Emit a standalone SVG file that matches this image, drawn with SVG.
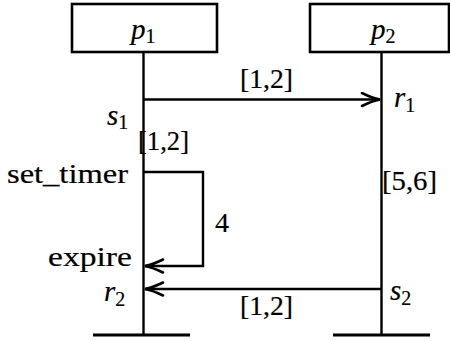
<svg xmlns="http://www.w3.org/2000/svg" width="450" height="341" viewBox="0 0 450 341">
  <style>
    .ln { stroke: #000; stroke-width: 2.4; fill: none; }
    .box { stroke: #000; stroke-width: 2.6; fill: #fff; }
    .bar { stroke: #000; stroke-width: 3.2; }
    text { font-family: "Liberation Serif", "Times New Roman", serif; font-size: 28px; fill: #000; stroke: #000; stroke-width: 0.2; }
    .it { font-style: italic; font-size: 29px; }
    .sub { font-style: normal; font-size: 20px; }
  </style>
  <defs>
    <marker id="head" markerUnits="userSpaceOnUse" markerWidth="24" markerHeight="16" viewBox="-20 -8 24 16" refX="0" refY="0" orient="auto">
      <path d="M -18 -6.5 Q -8 -1.5 0 0 Q -8 1.5 -18 6.5" stroke="#000" stroke-width="2.6" fill="none" stroke-linecap="round"/>
    </marker>
  </defs>

  <!-- process p1 -->
  <g id="p1">
    <rect class="box" x="72" y="4" width="145" height="48"/>
    <text x="131" y="39" class="it">p<tspan class="sub" dy="4">1</tspan></text>
    <line class="ln" x1="143.5" y1="52" x2="143.5" y2="335"/>
    <line class="bar" x1="93" y1="335" x2="190" y2="335"/>
  </g>

  <!-- process p2 -->
  <g id="p2">
    <rect class="box" x="310" y="4" width="139" height="48"/>
    <text x="371" y="39" class="it">p<tspan class="sub" dy="4">2</tspan></text>
    <line class="ln" x1="381.5" y1="52" x2="381.5" y2="335"/>
    <line class="bar" x1="333" y1="335" x2="430" y2="335"/>
  </g>

  <!-- messages and the local timer -->
  <g id="connectors">
    <line class="ln" x1="143.5" y1="99.5" x2="380" y2="99.5" marker-end="url(#head)"/>
    <polyline class="ln" points="143.5,172 203,172 203,266 145,266" marker-end="url(#head)"/>
    <line class="ln" x1="381.5" y1="289" x2="145" y2="289" marker-end="url(#head)"/>
  </g>

  <!-- event and delay labels -->
  <g id="labels">
    <text x="240" y="88" textLength="53" lengthAdjust="spacingAndGlyphs">[1,2]</text>
    <text x="394" y="107" class="it">r<tspan class="sub" dy="5">1</tspan></text>
    <text x="107" y="125" class="it">s<tspan class="sub" dy="4">1</tspan></text>
    <text x="138" y="150" textLength="51" lengthAdjust="spacingAndGlyphs">[1,2]</text>
    <text x="7" y="183" textLength="121" lengthAdjust="spacingAndGlyphs">set_timer</text>
    <text x="382" y="190" textLength="55" lengthAdjust="spacingAndGlyphs">[5,6]</text>
    <text x="215" y="232">4</text>
    <text x="48" y="266" textLength="84" lengthAdjust="spacingAndGlyphs">expire</text>
    <text x="104" y="301" class="it">r<tspan class="sub" dy="5">2</tspan></text>
    <text x="390" y="300" class="it">s<tspan class="sub" dy="5">2</tspan></text>
    <text x="240" y="315" textLength="53" lengthAdjust="spacingAndGlyphs">[1,2]</text>
  </g>
</svg>
